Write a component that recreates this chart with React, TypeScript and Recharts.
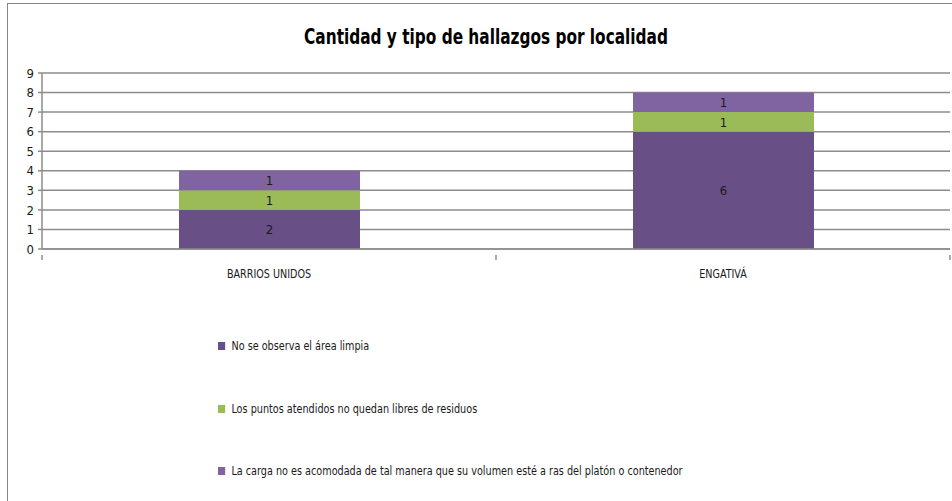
import { Bar, BarChart, CartesianGrid, LabelList, XAxis, YAxis } from "recharts";

const localidades = ["BARRIOS UNIDOS", "ENGATIVÁ"];
const areaNoLimpia = [2, 6];
const puntosConResiduos = [1, 1];
const cargaMalAcomodada = [1, 1];
const yTicks = [0, 1, 2, 3, 4, 5, 6, 7, 8, 9];

const series = [
  { key: "areaNoLimpia", name: "No se observa el área limpia", color: "#684F86" },
  { key: "puntosConResiduos", name: "Los puntos atendidos no quedan libres de residuos", color: "#9BBB59" },
  {
    key: "cargaMalAcomodada",
    name: "La carga no es acomodada de tal manera que su volumen esté a ras del platón o contenedor",
    color: "#8064A2",
  },
];

const data = localidades.map((name, i) => ({
  name,
  areaNoLimpia: areaNoLimpia[i],
  puntosConResiduos: puntosConResiduos[i],
  cargaMalAcomodada: cargaMalAcomodada[i],
}));

const font = "'DejaVu Sans Condensed', 'DejaVu Sans', sans-serif";

function CategoryTick(props: any) {
  const { x, y, payload, index } = props;
  const half = payload?.offset ?? 227;
  return (
    <g>
      <line x1={x - half} x2={x - half} y1={y - 14} y2={y - 9} stroke="#8c8c8c" strokeWidth={1.5} />
      {index === localidades.length - 1 && (
        <line x1={x + half} x2={x + half} y1={y - 14} y2={y - 9} stroke="#8c8c8c" strokeWidth={1.5} />
      )}
      <text
        transform={`translate(${x},${y}) scale(0.89,1)`}
        dy="0.71em"
        textAnchor="middle"
        fill="#1a1a1a"
        fontSize={12}
        fontFamily={font}
      >
        {payload.value}
      </text>
    </g>
  );
}

export default function App() {
  return (
    <div style={{ position: "absolute", left: 0, top: 0, width: 952, height: 501, background: "#fff", overflow: "hidden" }}>
      <div style={{ position: "absolute", left: 7, top: 3, width: 960, height: 520, borderLeft: "1.5px solid #868686", borderTop: "1.5px solid #868686" }} />
      <div
        style={{
          position: "absolute",
          left: 0,
          width: 972,
          top: 24,
          textAlign: "center",
          fontFamily: font,
          fontWeight: "bold",
          fontSize: 22,
          color: "#000",
          transform: "scaleX(0.775)",
          transformOrigin: "486px 0",
        }}
      >
        Cantidad y tipo de hallazgos por localidad
      </div>
      <div style={{ position: "absolute", left: 0, top: 0 }}>
        <BarChart width={952} height={290} data={data} margin={{ top: 73, right: 2, left: 8, bottom: 11 }} barSize={181}>
          <CartesianGrid vertical={false} stroke="#8c8c8c" strokeWidth={1.5} />
          <XAxis
            dataKey="name"
            height={30}
            tickLine={false}
            tickMargin={14}
            tick={<CategoryTick />}
            axisLine={{ stroke: "#8c8c8c", strokeWidth: 1.5 }}
          />
          <YAxis
            width={34}
            domain={[0, 9]}
            ticks={yTicks}
            interval={0}
            tickSize={4}
            tickMargin={4}
            tick={{ fill: "#1a1a1a", fontSize: 13, fontFamily: font }}
            tickLine={{ stroke: "#8c8c8c", strokeWidth: 1.5 }}
            axisLine={{ stroke: "#8c8c8c", strokeWidth: 1.5 }}
          />
          {series.map((s) => (
            <Bar key={s.key} dataKey={s.key} name={s.name} stackId="a" fill={s.color} isAnimationActive={false}>
              <LabelList dataKey={s.key} position="center" fill="#1a1a1a" fontSize={13} fontFamily={font} />
            </Bar>
          ))}
        </BarChart>
      </div>
      {series.map((s, i) => (
        <div
          key={s.key}
          style={{
            position: "absolute",
            left: 218,
            top: 339 + i * 62.5,
            display: "flex",
            alignItems: "center",
            fontFamily: font,
            fontSize: 12,
            color: "#1a1a1a",
            whiteSpace: "nowrap",
            transform: "scaleX(0.895)",
            transformOrigin: "0 0",
          }}
        >
          <span style={{ width: 8, height: 8, background: s.color, marginRight: 7, display: "inline-block" }} />
          {s.name}
        </div>
      ))}
    </div>
  );
}
